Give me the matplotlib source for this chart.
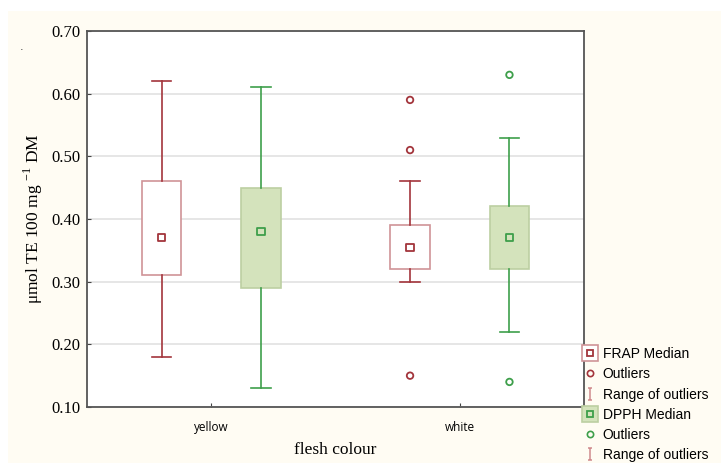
import matplotlib
matplotlib.use("Agg")
import matplotlib.pyplot as plt
from matplotlib.patches import Rectangle
from matplotlib.lines import Line2D
from matplotlib.path import Path
from matplotlib.legend_handler import HandlerTuple

categories = ["yellow", "white"]
# FRAP stats per category
frap_med = [0.37, 0.355]
frap_q1 = [0.31, 0.32]
frap_q3 = [0.46, 0.39]
frap_lo = [0.18, 0.30]
frap_hi = [0.62, 0.46]
frap_out = [[], [0.59, 0.51, 0.15]]
# DPPH stats per category
dpph_med = [0.38, 0.37]
dpph_q1 = [0.29, 0.32]
dpph_q3 = [0.45, 0.42]
dpph_lo = [0.13, 0.22]
dpph_hi = [0.61, 0.53]
dpph_out = [[], [0.63, 0.14]]
yticks = [0.10, 0.20, 0.30, 0.40, 0.50, 0.60, 0.70]

W, H = 721, 463
fig = plt.figure(figsize=(W / 100, H / 100), dpi=100, facecolor="white")
fig.add_artist(Rectangle((8 / W, 0), 1, (H - 11) / H, transform=fig.transFigure,
                         facecolor="#FFFCF3", edgecolor="none", zorder=-10))
ax = fig.add_axes([87 / W, (H - 407) / H, (584 - 87) / W, (407 - 31) / H])
ax.set_facecolor("white")

frap_dark = "#A3353C"
frap_light = "#CF9497"
dpph_dark = "#3E9F4B"
dpph_fill = "#D4E3BC"
dpph_edge = "#BCCFA2"

off = 0.2
bw = 0.16
xs = list(range(len(categories)))

def stats(med, q1, q3, lo, hi):
    return [dict(med=med[i], q1=q1[i], q3=q3[i], whislo=lo[i], whishi=hi[i], fliers=[])
            for i in range(len(med))]

for (med, q1, q3, lo, hi, out, sign, dark, face, edge) in [
    (frap_med, frap_q1, frap_q3, frap_lo, frap_hi, frap_out, -1, frap_dark, "white", frap_light),
    (dpph_med, dpph_q1, dpph_q3, dpph_lo, dpph_hi, dpph_out, 1, dpph_dark, dpph_fill, dpph_edge),
]:
    pos = [x + sign * off for x in xs]
    ax.bxp(stats(med, q1, q3, lo, hi), positions=pos, widths=bw, patch_artist=True,
           showfliers=False, manage_ticks=False,
           boxprops=dict(facecolor=face, edgecolor=edge, linewidth=1.2),
           whiskerprops=dict(color=dark, linewidth=1.2),
           capprops=dict(color=dark, linewidth=1.2),
           medianprops=dict(linewidth=0), zorder=3)
    ax.scatter(pos, med, marker="s", s=28, facecolors="none", edgecolors=dark,
               linewidths=1.3, zorder=5)
    for p, o in zip(pos, out):
        if o:
            ax.scatter([p] * len(o), o, marker="o", s=22, facecolors="none",
                       edgecolors=dark, linewidths=1.3, zorder=5)

ax.set_xlim(-0.5, 1.5)
ax.set_ylim(0.10, 0.70)
ax.set_yticks(yticks)
ax.set_yticklabels([f"{v:.2f}" for v in yticks], fontfamily="Liberation Serif", fontsize=12)
ax.set_xticks(xs)
ax.set_xticklabels(categories, fontfamily="Open Sans", fontsize=8.5)
ax.tick_params(direction="in", length=3, color="#444444", pad=5)
ax.tick_params(axis="x", pad=10)
ax.yaxis.grid(True, color="#E2E2E2", linewidth=1.2, zorder=0)
ax.set_axisbelow(True)
for s in ax.spines.values():
    s.set_color("#555555")
    s.set_linewidth(1.3)

ax.set_xlabel("flesh colour", fontfamily="Liberation Serif", fontsize=12.5, labelpad=6)
ax.set_ylabel("μmol TE 100 mg $^{\\mathregular{-1}}$ DM", fontfamily="Liberation Serif",
              fontsize=12.5, labelpad=4)
fig.text(20 / W, 1 - 50 / H, ".", fontsize=8, color="#333333")

# legend
def sq_handle(edge_outer, face_outer, inner):
    outer = Line2D([], [], linestyle="none", marker="s", markersize=11,
                   markerfacecolor=face_outer, markeredgecolor=edge_outer, markeredgewidth=1.2)
    inn = Line2D([], [], linestyle="none", marker="s", markersize=5,
                 markerfacecolor="none", markeredgecolor=inner, markeredgewidth=1.3)
    return (outer, inn)

ipath = Path([(-0.4, 1), (0.4, 1), (0, 1), (0, -1), (-0.4, -1), (0.4, -1)],
             [Path.MOVETO, Path.LINETO, Path.MOVETO, Path.LINETO, Path.MOVETO, Path.LINETO])

def out_handle(c):
    return Line2D([], [], linestyle="none", marker="o", markersize=4.5,
                  markerfacecolor="none", markeredgecolor=c, markeredgewidth=1.2)

def range_handle():
    return Line2D([], [], linestyle="none", marker=ipath, markersize=8,
                  markerfacecolor="none", markeredgecolor="#D08A8C", markeredgewidth=1.1)

handles = [sq_handle(frap_light, "white", frap_dark), out_handle(frap_dark), range_handle(),
           sq_handle(dpph_edge, dpph_fill, dpph_dark), out_handle(dpph_dark), range_handle()]
labels = ["FRAP Median", "Outliers", "Range of outliers",
          "DPPH Median", "Outliers", "Range of outliers"]
leg = fig.legend(handles, labels, loc="upper left", bbox_to_anchor=(584 / W, 1 - 347 / H),
                 frameon=False, handler_map={tuple: HandlerTuple(ndivide=1, pad=0)},
                 handlelength=0.9, handletextpad=0.45, labelspacing=0.45, borderpad=0,
                 borderaxespad=0,
                 prop=dict(family="Liberation Sans", size=10))

fig.savefig("out.png", dpi=100, facecolor=fig.get_facecolor())
